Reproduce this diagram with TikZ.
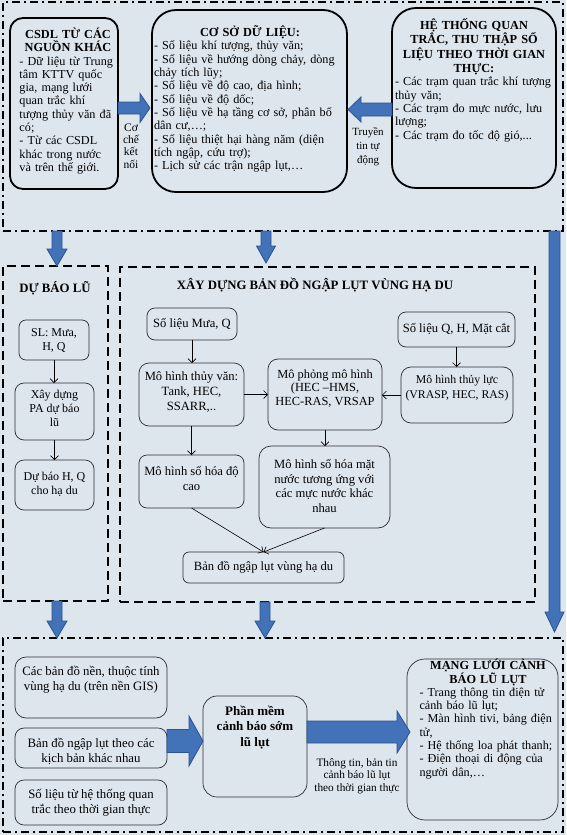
\documentclass[tikz,border=0pt]{standalone}
\usepackage{fontspec}
\setmainfont{Liberation Serif}
\usetikzlibrary{calc,arrows.meta}
\definecolor{bg}{RGB}{221,230,237}
\definecolor{bfill}{RGB}{66,114,184}
\definecolor{bline}{RGB}{45,82,145}
\definecolor{thinline}{RGB}{45,45,45}
\hbadness=10000 \vbadness=10000 \tolerance=10000
\hyphenpenalty=10000 \exhyphenpenalty=10000
\newcommand\bx[6][]{%
  \pgfmathsetmacro\bxw{#5-#3}\pgfmathsetmacro\bxh{#6-#4}%
  \node[#1, minimum width=\bxw pt, minimum height=\bxh pt, anchor=north west] (#2) at (#3,#4) {};}
\newcommand\blockarrow[5]{%
  \coordinate (bab) at ($(#2)!#5!(#1)$);
  \filldraw[blockarr] ($(#1)!#3!90:(#2)$) -- ($(bab)!#3!90:(#2)$) -- ($(bab)!#4!90:(#2)$) -- (#2) --
    ($(bab)!#4!-90:(#2)$) -- ($(bab)!#3!-90:(#2)$) -- ($(#1)!#3!-90:(#2)$) -- cycle;}
\newcommand\ttl{\bfseries\fontsize{12.3}{13.3}\selectfont}
\begin{document}
\begin{tikzpicture}[x=1pt,y=-1pt,
  every node/.style={inner sep=0pt, outer sep=0pt},
  ddframe/.style={draw=black, line width=1.5pt, dash pattern=on 8pt off 4pt on 2pt off 4pt},
  dframe/.style={draw=black, line width=1.8pt, dash pattern=on 9pt off 5pt},
  bigbox/.style={draw=black, line width=1.8pt, rounded corners=#1},
  bigbox/.default=20pt,
  smallbox/.style={draw=thinline, line width=0.7pt, rounded corners=#1},
  smallbox/.default=8pt,
  blockarr/.style={fill=bfill, draw=bline, line width=0.8pt},
  thinarr/.style={draw=black, line width=0.6pt, -{Straight Barb[length=4pt,width=8pt]}},
  t13/.style={font=\fontsize{12.2}{13.3}\selectfont},
  tin/.style={font=\fontsize{12.6}{15}\selectfont, align=center},
  tdb/.style={font=\fontsize{12}{14}\selectfont, align=center},
  tbt/.style={font=\fontsize{12.8}{15}\selectfont, align=center},
  lbl/.style={font=\fontsize{11.3}{12.5}\selectfont, align=center},
]
\fill[bg] (0,0) rectangle (566,835);
\useasboundingbox (0,0) rectangle (566,835);

% frames
\bx[ddframe]{tf}{3}{2}{563}{231}
\bx[ddframe]{bf}{3}{638}{563}{832}
\bx[dframe]{dbl}{3}{266}{108}{601}
\bx[dframe]{xdf}{120}{267}{535}{602}

% top boxes
\bx[bigbox=13pt]{csdl}{10}{18}{118}{189}
\bx[bigbox=24pt]{csdb}{152}{10}{347}{192}
\bx[bigbox=24pt]{ht}{392}{8}{556}{188}

\node[t13, text width=97pt] (csdl-t) at (68,101)
 {{\centering\ttl CSDL TỪ CÁC\\ NGUỒN KHÁC\par}- Dữ liệu từ Trung\linebreak tâm KTTV quốc\linebreak gia, mạng lưới\linebreak quan trắc khí\linebreak tượng thủy văn đã\linebreak có;\par - Từ các CSDL\linebreak khác trong nước\linebreak và trên thế giới.};

\node[t13, text width=192pt] (csdb-t) at (250,99)
 {{\centering\ttl CƠ SỞ DỮ LIỆU:\par}\raggedright
 - Số liệu khí tượng, thủy văn;\\
 - Số liệu về hướng dòng chảy, dòng\\
 chảy tích lũy;\\
 - Số liệu về độ cao, địa hình;\\
 - Số liệu về độ dốc;\\
 - Số liệu về hạ tầng cơ sở, phân bố\\
 dân cư,…;\\
 - Số liệu thiệt hại hàng năm (diện\\
 tích ngập, cứu trợ);\\
 - Lịch sử các trận ngập lụt,…};

\node[t13, text width=158pt] (ht-t) at (474,80)
 {{\centering\ttl\fontsize{12.3}{14.5}\selectfont HỆ THỐNG QUAN\\ TRẮC, THU THẬP SỐ\\ LIỆU THEO THỜI GIAN\\ THỰC:\par}- Các trạm quan trắc khí tượng\linebreak thủy văn;\par - Các trạm đo mực nước, lưu\linebreak lượng;\par - Các trạm đo tốc độ gió,...};

\node[font=\fontsize{11.5}{12.3}\selectfont, align=center] (cc) at (131,146) {Cơ\\chế\\kết\\nối};
\node[font=\fontsize{11}{14}\selectfont, align=center] (tt) at (368,147) {Truyền\\tin tự\\động};

% block arrows top
\coordinate (a1s) at (csdl.east |- 0,108);
\coordinate (a1e) at ($(csdb.west |- 0,108)+(-2,0)$);
\blockarrow{a1s}{a1e}{6pt}{14.5pt}{10pt}
\coordinate (a2s) at (ht.west |- 0,109.5);
\coordinate (a2e) at ($(csdb.east |- 0,109.5)+(1,0)$);
\blockarrow{a2s}{a2e}{6.5pt}{12.5pt}{13pt}
\coordinate (a3s) at (tf.south -| 57,0);
\coordinate (a3e) at (dbl.north -| 57,0);
\blockarrow{a3s}{a3e}{5pt}{10pt}{17pt}
\coordinate (a4s) at (tf.south -| 266,0);
\coordinate (a4e) at ($(xdf.north -| 266,0)+(0,-4)$);
\blockarrow{a4s}{a4e}{5pt}{9.5pt}{17pt}
\coordinate (a5s) at (dbl.south -| 57,0);
\coordinate (a5e) at (bf.north -| 57,0);
\blockarrow{a5s}{a5e}{5pt}{10pt}{17pt}
\coordinate (a6s) at (xdf.south -| 265,0);
\coordinate (a6e) at (bf.north -| 265,0);
\blockarrow{a6s}{a6e}{5pt}{10pt}{17pt}
\coordinate (a7s) at (tf.south -| 554.5,0);
\coordinate (a7e) at ($(bf.north -| 554.5,0)+(0,-6)$);
\blockarrow{a7s}{a7e}{5.5pt}{9.5pt}{20pt}

% Du bao lu
\node[font=\bfseries\fontsize{12.8}{14}\selectfont] (dbl-t) at (55,288) {DỰ BÁO LŨ};
\bx[smallbox=7pt]{sl}{19}{320}{89}{360}
\bx[smallbox=9pt]{xd}{15}{383}{94}{440}
\bx[smallbox=9pt]{dbhq}{15}{460}{94}{510}
\node[tdb] (sl-t) at (sl) {SL: Mưa,\\H, Q};
\node[tdb] (xd-t) at (54.5,408) {Xây dựng\\PA dự báo\\lũ};
\node[tdb] (dbhq-t) at (54.5,484) {Dự báo H, Q\\cho hạ du};
\draw[thinarr] (sl.south) -- (sl.south |- xd.north);
\draw[thinarr] (xd.south) -- (dbhq.north);

% Xay dung
\node[font=\bfseries\fontsize{12.8}{14}\selectfont] (xdf-t) at (315,285) {XÂY DỰNG BẢN ĐỒ NGẬP LỤT VÙNG HẠ DU};
\bx[smallbox]{slmq}{147}{308}{237}{340}
\bx[smallbox=10pt]{mhtv}{139}{363}{244}{426}
\bx[smallbox=10pt]{mpmh}{268}{359}{382}{430}
\bx[smallbox]{slqh}{398}{312}{515}{347}
\bx[smallbox=10pt]{mhtl}{401}{367}{513}{423}
\bx[smallbox=8pt]{mhsdc}{139}{455}{244}{508}
\bx[smallbox=12pt]{mhsmn}{259}{446}{390}{528}
\bx[smallbox=6pt]{bdnl}{183}{552}{344}{583}
\node[tin] (slmq-t) at (slmq) {Số liệu Mưa, Q};
\node[tin] (mhtv-t) at (191.5,392) {Mô hình thủy văn:\\Tank, HEC,\\SSARR,..};
\node[tin, font=\fontsize{12.4}{13.5}\selectfont] (mpmh-t) at (325,388.5) {Mô phỏng mô hình\\(HEC –HMS,\\HEC-RAS, VRSAP};
\node[tin] (slqh-t) at (456.5,329) {Số liệu Q, H, Mặt cắt};
\node[tin, font=\fontsize{11.8}{15}\selectfont] (mhtl-t) at (457,388) {Mô hình thủy lực\\(VRASP, HEC, RAS)};
\node[tin] (mhsdc-t) at (191.5,478) {Mô hình số hóa độ\\cao};
\node[tin, font=\fontsize{12.6}{14.7}\selectfont] (mhsmn-t) at (324.5,486) {Mô hình số hóa mặt\\nước tương ứng với\\các mực nước khác\\nhau};
\node[tin] (bdnl-t) at (bdnl) {Bản đồ ngập lụt vùng hạ du};
\draw[thinarr] (slmq.south) -- (slmq.south |- mhtv.north);
\draw[thinarr] (mhtv.east) -- (mhtv.east -| mpmh.west);
\draw[thinarr] (slqh.south) -- (slqh.south |- mhtl.north);
\draw[thinarr] (mhtl.west) -- (mhtl.west -| mpmh.east);
\draw[thinarr] (mhtv.south) -- (mhtv.south |- mhsdc.north);
\draw[thinarr] (mpmh.south) -- (mpmh.south |- mhsmn.north);
\draw[thinarr] (mhsdc.south) -- (bdnl.north);
\draw[thinarr] (mhsmn.south) -- (bdnl.north);

% bottom
\bx[smallbox=11pt]{bdn}{15}{657}{167}{718}
\bx[smallbox=9pt]{bdk}{15}{728}{167}{768}
\bx[smallbox=9pt]{slht}{15}{780}{167}{825}
\bx[smallbox=14pt]{pm}{203}{696}{307}{797}
\bx[smallbox=18pt]{ml}{407}{659}{558}{820}
\node[tbt] (bdn-t) at (91,680) {Các bản đồ nền, thuộc tính\\vùng hạ du (trên nền GIS)};
\node[tbt] (bdk-t) at (91,751) {Bản đồ ngập lụt theo các\\kịch bản khác nhau};
\node[tbt] (slht-t) at (91,802.5) {Số liệu từ hệ thống quan\\trắc theo thời gian thực};
\node[font=\bfseries\fontsize{13}{15.5}\selectfont, align=center] (pm-t) at (255,727.5) {Phần mềm\\cảnh báo sớm\\lũ lụt};
\node[lbl] (tin) at (357,776) {Thông tin, bản tin\\cảnh báo lũ lụt\\theo thời gian thực};
\node[t13, text width=137pt] (ml-t) at (488,719)
 {{\centering\ttl MẠNG LƯỚI CẢNH\\ BÁO LŨ LỤT\par}- Trang thông tin điện tử\linebreak cảnh báo lũ lụt;\par - Màn hình tivi, bảng điện\linebreak tử,\par - Hệ thống loa phát thanh;\par - Điện thoại di động của\linebreak người dân,…};

\coordinate (a8s) at (bdk.east |- 0,741);
\coordinate (a8e) at (pm.west |- 0,741);
\blockarrow{a8s}{a8e}{11.5pt}{25pt}{14pt}
\coordinate (a9s) at (pm.east |- 0,732);
\coordinate (a9e) at ($(ml.west |- 0,732)+(3,0)$);
\blockarrow{a9s}{a9e}{11pt}{21pt}{13pt}
\end{tikzpicture}
\end{document}
